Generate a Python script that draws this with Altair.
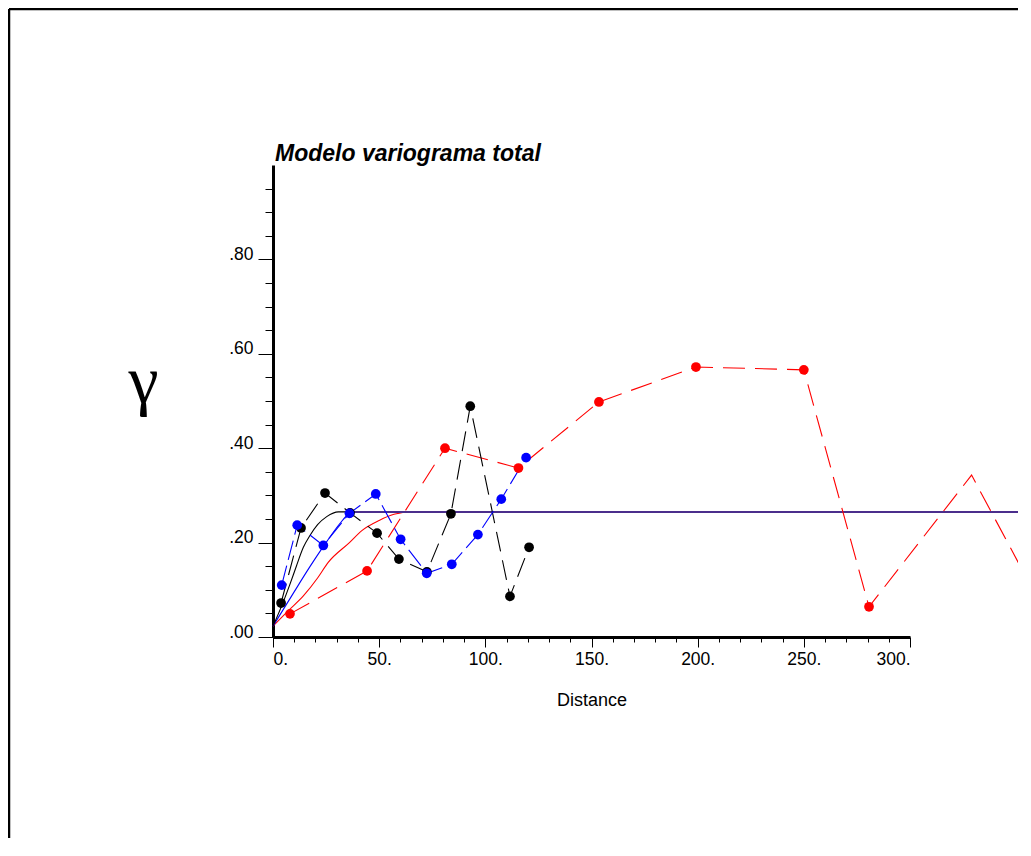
import altair as alt
import pandas as pd

# ---- experimental variogram points ----
red_x = [8.0, 44.3, 81.0, 115.6, 153.5, 199.2, 250.0, 280.7, 329.0, 365.0]
red_y = [0.049, 0.140, 0.400, 0.358, 0.498, 0.572, 0.566, 0.064, 0.343, 0.040]

black_x = [3.8, 13.2, 24.5, 36.3, 49.0, 59.3, 72.5, 83.8, 92.9, 111.6, 120.6]
black_y = [0.072, 0.231, 0.305, 0.263, 0.220, 0.165, 0.138, 0.261, 0.489, 0.086, 0.190]

blue_x = [4.1, 11.4, 23.7, 36.0, 48.4, 60.1, 72.4, 84.2, 96.5, 107.5, 119.2]
blue_y = [0.110, 0.237, 0.194, 0.262, 0.303, 0.207, 0.135, 0.154, 0.217, 0.292, 0.380]

# ---- fitted models ----
mod_black_x = [0, 4.9, 8, 11, 14.3, 17.4, 21, 25.3, 30.8, 36]
mod_black_y = [0.023, 0.075, 0.112, 0.150, 0.190, 0.215, 0.238, 0.255, 0.265, 0.265]

mod_blue_x = [0, 9.6, 17.4, 25.3, 31.6, 35.5, 38]
mod_blue_y = [0.023, 0.093, 0.149, 0.202, 0.241, 0.260, 0.265]

mod_red_x = [0, 7, 14.3, 21, 26, 36, 42, 50, 57, 63]
mod_red_y = [0.023, 0.055, 0.087, 0.125, 0.158, 0.200, 0.226, 0.247, 0.260, 0.265]

sill_x = [36, 420]
sill_y = [0.265, 0.265]

x_ticks = list(range(0, 301, 10))
y_ticks = [round(0.05 * i, 2) for i in range(0, 20)]

title_text = "Modelo variograma total"

def frame(xs, ys, name):
    return pd.DataFrame({"d": xs, "g": ys, "s": name})

exp_df = pd.concat([frame(red_x, red_y, "red"), frame(black_x, black_y, "black"),
                    frame(blue_x, blue_y, "blue")])
mod_df = pd.concat([frame(mod_red_x, mod_red_y, "red"), frame(mod_blue_x, mod_blue_y, "blue"),
                    frame(mod_black_x, mod_black_y, "black")])
sill_df = frame(sill_x, sill_y, "sill")

xscale = alt.Scale(domain=[0, 300], nice=False, zero=False)
yscale = alt.Scale(domain=[0, 1], nice=False)

xaxis = alt.Axis(
    values=x_ticks, grid=False,
    labelExpr="datum.value % 50 === 0 ? datum.value + '.' : ''",
    tickSize={"condition": {"test": "datum.value % 50 === 0", "value": 10}, "value": 5},
    title="Distance", titleFont="Liberation Sans",
    titleFontSize=18, titleFontWeight="normal", titlePadding=24,
    labelFont="Liberation Sans", labelFontSize=17.5, labelPadding=3,
    domainColor="black", domainWidth=3, tickColor="black", tickWidth=1,
    labelColor="black", titleColor="black",
)
yaxis = alt.Axis(
    values=y_ticks, grid=False,
    labelExpr="abs(datum.value*5 - round(datum.value*5)) < 1e-6 ? replace(format(datum.value, '.2f'), '0.', '.') : ''",
    tickSize={"condition": {"test": "abs(datum.value*5 - round(datum.value*5)) < 1e-6", "value": 15}, "value": 8},
    labelBaseline="alphabetic", labelPadding=5, labelFontSize=17.5, labelFont="Liberation Sans",
    title="γ", titleAngle=0, titleFont="Liberation Serif", titleFontSize=68,
    titleFontWeight="normal", titleAlign="center", titleBaseline="alphabetic",
    titleX=-130, titleY=237,
    domainColor="black", domainWidth=3, tickColor="black", tickWidth=1,
    labelColor="black", titleColor="black",
)

X = alt.X("d:Q", scale=xscale, axis=xaxis)
Y = alt.Y("g:Q", scale=yscale, axis=yaxis)
cscale = alt.Scale(domain=["red", "black", "blue", "sill"],
                   range=["#ff0000", "#000000", "#0000ff", "#4b2e8c"])
C = alt.Color("s:N", scale=cscale, legend=None)

models = alt.Chart(mod_df).mark_line(strokeWidth=1.1, interpolate="monotone").encode(
    x=X, y=Y, color=C, detail="s:N", order=alt.Order("d:Q"))

sill = alt.Chart(sill_df).mark_line(strokeWidth=2).encode(x=X, y=Y, color=C)

exp_red = alt.Chart(exp_df).transform_filter("datum.s === 'red'").mark_line(
    strokeWidth=1.1, strokeDash=[22, 10]).encode(x=X, y=Y, color=C, order=alt.Order("d:Q"))
exp_black = alt.Chart(exp_df).transform_filter("datum.s === 'black'").mark_line(
    strokeWidth=1.1, strokeDash=[20, 9]).encode(x=X, y=Y, color=C, order=alt.Order("d:Q"))
exp_blue = alt.Chart(exp_df).transform_filter("datum.s === 'blue'").mark_line(
    strokeWidth=1.1, strokeDash=[20, 6]).encode(x=X, y=Y, color=C, order=alt.Order("d:Q"))

dots = alt.Chart(exp_df).transform_filter("datum.d <= 300").mark_circle(
    size=95, opacity=1).encode(x=X, y=Y, color=C)

one = alt.Data(values=[{}])
frame_left = alt.Chart(one).mark_rule(color="black", strokeWidth=2.5).encode(
    x=alt.value(-264), y=alt.value(-156), y2=alt.value(700))
frame_top = alt.Chart(one).mark_rule(color="black", strokeWidth=2.5).encode(
    x=alt.value(-264), x2=alt.value(800), y=alt.value(-156))

title = alt.Chart(one).mark_text(
    font="Liberation Sans", fontSize=23, fontStyle="italic", fontWeight="bold",
    color="black", align="left", baseline="alphabetic").encode(
    x=alt.value(2), y=alt.value(-4), text=alt.value(title_text))

chart = alt.layer(models, sill, exp_red, exp_black, exp_blue, dots,
                  frame_left, frame_top, title).properties(
    width=637, height=472,
    autosize=alt.AutoSizeParams(type="none"),
    padding={"left": 265, "top": 157, "right": 108, "bottom": 201},
    background="white",
).configure_view(stroke=None)

chart.save("out.html", embed_options={"renderer": "svg", "actions": False})
